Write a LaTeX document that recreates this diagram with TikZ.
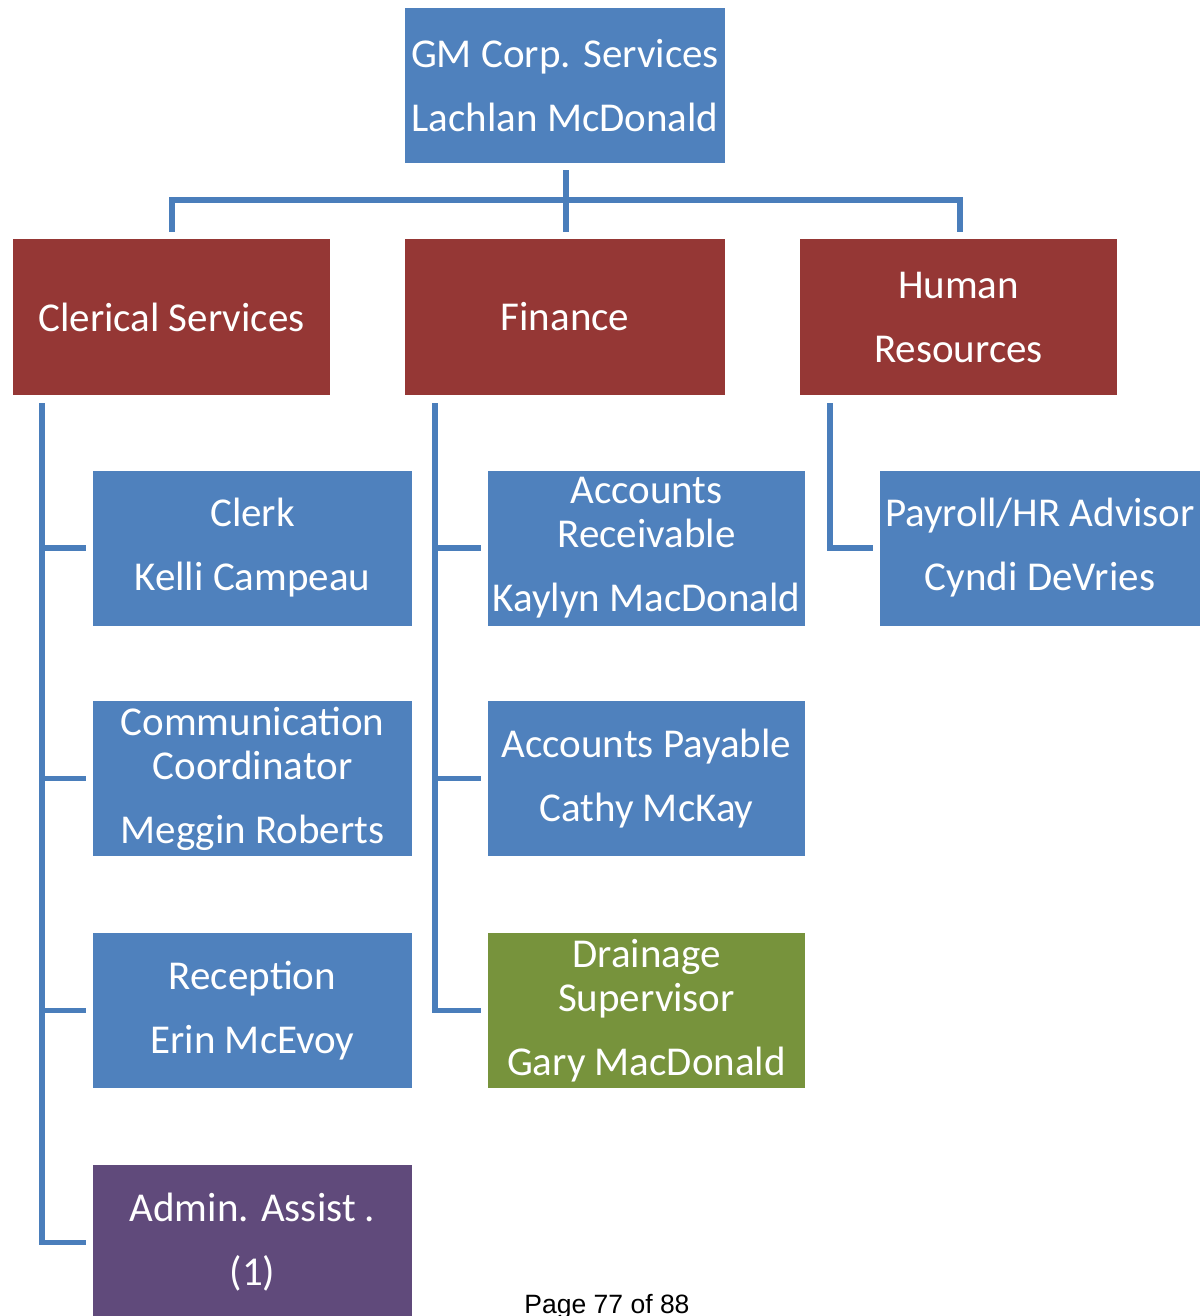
\documentclass[tikz,border=0pt]{standalone}
\usepackage{fontspec}
\setmainfont{Carlito}
\newfontfamily\pagefont{Liberation Sans}
\usetikzlibrary{calc}
\definecolor{boxblue}{HTML}{4F81BD}
\definecolor{boxred}{HTML}{953735}
\definecolor{boxpurple}{HTML}{604A7B}
\definecolor{boxgreen}{HTML}{77933C}
\definecolor{linkblue}{HTML}{4A7EBB}
\tikzset{
  orgbox/.style={rectangle, inner sep=0pt, text=white, align=center,
    minimum width=319pt, minimum height=155pt,
    font=\fontsize{41}{44}\selectfont},
  bluebox/.style={orgbox, fill=boxblue},
  redbox/.style={orgbox, fill=boxred},
  purplebox/.style={orgbox, fill=boxpurple},
  greenbox/.style={orgbox, fill=boxgreen},
  link/.style={draw=linkblue, line width=5.5pt},
}
\begin{document}
\begin{tikzpicture}[x=1pt,y=-1pt]
\useasboundingbox (0,0) rectangle (1203,1316);
\begin{scope}
\clip (0,0) rectangle (1203,1316);
% top
\node[bluebox, minimum width=320pt] (gm) at (565,85.5) {GM Corp. Services\\[20pt]Lachlan McDonald};
% departments
\node[redbox, minimum width=317pt, minimum height=156pt] (cs) at (171.5,317) {Clerical Services};
\node[redbox, minimum width=320pt, minimum height=156pt] (fin) at (565,317) {Finance};
\node[redbox, minimum width=317pt, minimum height=156pt] (hr) at (958.5,317) {Human\\[20pt]Resources};
% clerical
\node[bluebox] (clerk) at (252.5,548) {Clerk\\[20pt]Kelli Campeau};
\node[bluebox] (comm) at (252.5,778.5) {Communication\\Coordinator\\[20pt]Meggin Roberts};
\node[bluebox] (rec) at (252.5,1010.5) {Reception\\[20pt]Erin McEvoy};
\node[purplebox] (admin) at (252.5,1242.5) {Admin. Assist .\\[20pt](1)};
% finance
\node[bluebox, minimum width=317pt] (ar) at (646.5,548) {Accounts\\Receivable\\[20pt]Kaylyn MacDonald};
\node[bluebox, minimum width=317pt] (ap) at (646.5,778.5) {Accounts Payable\\[20pt]Cathy McKay};
\node[greenbox, minimum width=317pt] (dr) at (646.5,1010.5) {Drainage\\Supervisor\\[20pt]Gary MacDonald};
% HR
\node[bluebox, minimum width=320pt] (pay) at (1040,548) {Payroll/HR Advisor\\[20pt]Cyndi DeVries};

% top connectors
\draw[link] ($(cs.north)+(0.5,-7)$) -- ($(cs.north)+(0.5,-39)$) -| ($(hr.north)+(1.5,-7)$);
\draw[link] ($(gm.south)+(1,7)$) -- ($(fin.north)+(1,-7)$);

% clerical spine
\coordinate (csL) at ($(cs.south west)+(29,8)$);
\draw[link] (csL) |- ($(admin.west)+(-7,0)$);
\draw[link] (csL |- clerk.west) -- ($(clerk.west)+(-7,0)$);
\draw[link] (csL |- comm.west) -- ($(comm.west)+(-7,0)$);
\draw[link] (csL |- rec.west) -- ($(rec.west)+(-7,0)$);

% finance spine
\coordinate (finL) at ($(fin.south west)+(30,8)$);
\draw[link] (finL) |- ($(dr.west)+(-7,0)$);
\draw[link] (finL |- ar.west) -- ($(ar.west)+(-7,0)$);
\draw[link] (finL |- ap.west) -- ($(ap.west)+(-7,0)$);

% HR spine
\coordinate (hrL) at ($(hr.south west)+(30,8)$);
\draw[link] (hrL) |- ($(pay.west)+(-7,0)$);

% footer
\node[anchor=base, inner sep=0pt, font=\pagefont\fontsize{26.5}{30}\selectfont] (page) at (607,1313) {Page 77 of 88};
\end{scope}
\end{tikzpicture}
\end{document}
